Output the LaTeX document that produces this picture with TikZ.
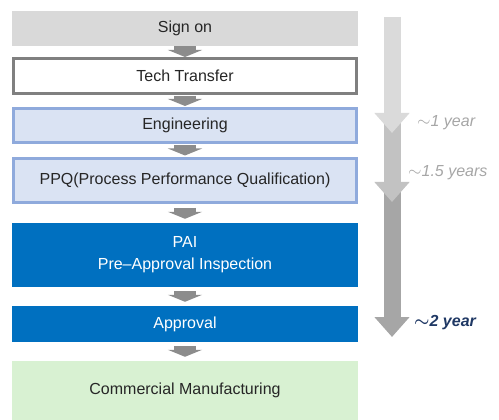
\documentclass[tikz,border=0pt]{standalone}
\usepackage{amsmath}
\usepackage{fontspec}
\setmainfont{Liberation Sans}
\usetikzlibrary{arrows.meta}
\definecolor{signgray}{HTML}{D9D9D9}
\definecolor{techgray}{HTML}{808080}
\definecolor{engfill}{HTML}{DAE3F3}
\definecolor{engline}{HTML}{8FAADC}
\definecolor{paiblue}{HTML}{0070C0}
\definecolor{commgreen}{HTML}{D8F1D2}
\definecolor{txtgray}{HTML}{262626}
\definecolor{steparr}{HTML}{8C8C8C}
\definecolor{tlone}{HTML}{DADADA}
\definecolor{tltwo}{HTML}{C2C2C2}
\definecolor{tlthree}{HTML}{A6A6A6}
\definecolor{navy}{HTML}{1F3864}

\tikzset{
  stage/.style={minimum width=346pt, inner sep=0pt, text=txtgray, font=\fontsize{16}{19}\selectfont},
  bluebox/.style={stage, fill=engfill, draw=engline, line width=3pt, minimum width=343pt},
  darkbox/.style={stage, fill=paiblue, text=white},
  steparrow/.style={steparr, line width=22pt, -{Triangle[width=34pt,length=7pt]}},
  timearrow/.style={line width=17pt, -{Triangle[width=34pt,length=20pt]}},
  timelabel/.style={anchor=west, inner sep=0pt, font=\fontsize{16}{19}\selectfont\itshape}
}

\begin{document}
\begin{tikzpicture}[x=1pt,y=-1pt]
  \useasboundingbox (0,0) rectangle (499,420);

  % stages
  \node[stage, fill=signgray, minimum height=35pt] (signon) at (185,28.5) {Sign on};
  \node[stage, draw=techgray, line width=3pt, fill=white, minimum width=343pt, minimum height=35pt] (tech) at (185,76) {Tech Transfer};
  \node[bluebox, minimum height=34pt] (eng) at (185,125.5) {Engineering};
  \node[bluebox, minimum height=44pt] (ppq) at (185,180.5) {PPQ(Process Performance Qualification)};
  \node[darkbox, minimum height=64pt, align=center] (pai) at (185,255) {PAI\\[3pt]Pre--Approval Inspection};
  \node[darkbox, minimum height=36pt] (appr) at (185,324) {Approval};
  \node[stage, fill=commgreen, minimum height=59pt] (comm) at (185,390.5) {Commercial Manufacturing};

  \foreach \a/\b/\g in {signon/tech/0pt, tech/eng/1pt, eng/ppq/1.5pt, ppq/pai/4pt, pai/appr/4pt, appr/comm/4pt}
    \draw[steparrow, shorten <=\g, shorten >=\g] (\a.south) -- (\b.north);

  % time line
  \coordinate (t0) at (392,17);
  \coordinate (t1) at (392,133);
  \coordinate (t2s) at (392,115);
  \coordinate (t2) at (392,202);
  \coordinate (t3s) at (392,184);
  \coordinate (t3) at (392,337);
  \draw[timearrow, tlthree] (t3s) -- (t3);
  \draw[timearrow, tltwo] (t2s) -- (t2);
  \draw[timearrow, tlone] (t0) -- (t1);

  \node[timelabel, text=tlthree] (y1) at (417,123) {$\sim$1 year};
  \node[timelabel, text=tlthree] (y15) at (408,173) {$\sim$1.5 years};
  \node[timelabel, text=navy, font=\fontsize{16}{19}\selectfont\bfseries\itshape] (y2) at (414,323) {$\boldsymbol{\sim}$2 year};
\end{tikzpicture}
\end{document}
